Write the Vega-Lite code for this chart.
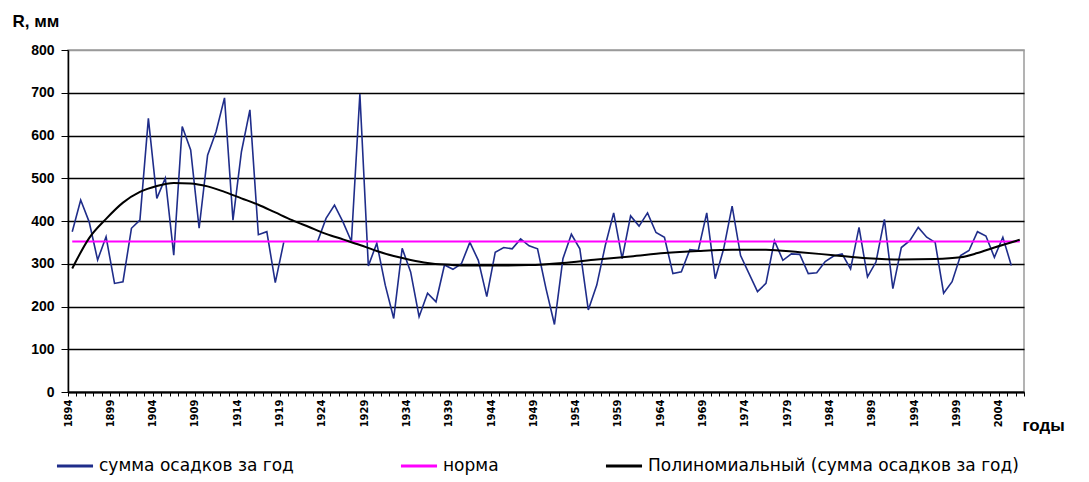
{
  "$schema": "https://vega.github.io/schema/vega-lite/v6.json",
  "width": 956,
  "height": 342,
  "autosize": {"type": "none"},
  "padding": {"left": 68, "top": 50, "right": 65, "bottom": 90},
  "background": "white",
  "config": {"view": {"stroke": "#9a9a9a", "strokeWidth": 1.5}, "font": "Liberation Sans"},
  "datasets": {
    "rain": [
      {"year":1894,"value":375},{"year":1895,"value":449},{"year":1896,"value":398},{"year":1897,"value":309},{"year":1898,"value":363},
      {"year":1899,"value":254},{"year":1900,"value":258},{"year":1901,"value":383},{"year":1902,"value":402},{"year":1903,"value":640},
      {"year":1904,"value":453},{"year":1905,"value":500},{"year":1906,"value":320},{"year":1907,"value":621},{"year":1908,"value":566},
      {"year":1909,"value":383},{"year":1910,"value":554},{"year":1911,"value":609},{"year":1912,"value":688},{"year":1913,"value":402},
      {"year":1914,"value":562},{"year":1915,"value":660},{"year":1916,"value":368},{"year":1917,"value":375},{"year":1918,"value":256},
      {"year":1919,"value":350},{"year":1920,"value":null},{"year":1921,"value":null},{"year":1922,"value":null},{"year":1923,"value":352},
      {"year":1924,"value":406},{"year":1925,"value":437},{"year":1926,"value":398},{"year":1927,"value":352},{"year":1928,"value":697},
      {"year":1929,"value":295},{"year":1930,"value":348},{"year":1931,"value":250},{"year":1932,"value":172},{"year":1933,"value":336},
      {"year":1934,"value":281},{"year":1935,"value":176},{"year":1936,"value":231},{"year":1937,"value":211},{"year":1938,"value":297},
      {"year":1939,"value":287},{"year":1940,"value":300},{"year":1941,"value":350},{"year":1942,"value":308},{"year":1943,"value":223},
      {"year":1944,"value":327},{"year":1945,"value":338},{"year":1946,"value":335},{"year":1947,"value":358},{"year":1948,"value":342},
      {"year":1949,"value":335},{"year":1950,"value":242},{"year":1951,"value":158},{"year":1952,"value":312},{"year":1953,"value":369},
      {"year":1954,"value":335},{"year":1955,"value":192},{"year":1956,"value":250},{"year":1957,"value":342},{"year":1958,"value":419},
      {"year":1959,"value":312},{"year":1960,"value":412},{"year":1961,"value":388},{"year":1962,"value":419},{"year":1963,"value":373},
      {"year":1964,"value":362},{"year":1965,"value":277},{"year":1966,"value":281},{"year":1967,"value":333},{"year":1968,"value":331},
      {"year":1969,"value":419},{"year":1970,"value":265},{"year":1971,"value":335},{"year":1972,"value":435},{"year":1973,"value":319},
      {"year":1974,"value":277},{"year":1975,"value":235},{"year":1976,"value":254},{"year":1977,"value":354},{"year":1978,"value":308},
      {"year":1979,"value":323},{"year":1980,"value":322},{"year":1981,"value":277},{"year":1982,"value":279},{"year":1983,"value":305},
      {"year":1984,"value":318},{"year":1985,"value":323},{"year":1986,"value":288},{"year":1987,"value":385},{"year":1988,"value":269},
      {"year":1989,"value":304},{"year":1990,"value":404},{"year":1991,"value":242},{"year":1992,"value":338},{"year":1993,"value":354},
      {"year":1994,"value":385},{"year":1995,"value":362},{"year":1996,"value":350},{"year":1997,"value":231},{"year":1998,"value":258},
      {"year":1999,"value":319},{"year":2000,"value":331},{"year":2001,"value":375},{"year":2002,"value":365},{"year":2003,"value":315},
      {"year":2004,"value":362},{"year":2005,"value":296}
    ],
    "norm": [{"year":1894,"value":352},{"year":2006,"value":352}],
    "trend": [
      {"year":1894,"value":289},{"year":1896,"value":360},{"year":1898,"value":405},{"year":1900,"value":443},{"year":1902,"value":468},
      {"year":1904,"value":482},{"year":1906,"value":489},{"year":1908,"value":488},{"year":1910,"value":481},{"year":1912,"value":468},
      {"year":1914,"value":453},{"year":1916,"value":438},{"year":1918,"value":420},{"year":1920,"value":402},{"year":1922,"value":386},
      {"year":1924,"value":370},{"year":1926,"value":357},{"year":1928,"value":344},{"year":1930,"value":330},{"year":1932,"value":318},
      {"year":1934,"value":309},{"year":1936,"value":302},{"year":1938,"value":298},{"year":1940,"value":296},{"year":1944,"value":296},
      {"year":1948,"value":297},{"year":1952,"value":302},{"year":1956,"value":310},{"year":1960,"value":317},{"year":1964,"value":325},
      {"year":1968,"value":330},{"year":1972,"value":333},{"year":1976,"value":333},{"year":1980,"value":327},{"year":1984,"value":320},
      {"year":1988,"value":313},{"year":1992,"value":310},{"year":1996,"value":311},{"year":1999,"value":315},{"year":2001,"value":325},
      {"year":2003,"value":338},{"year":2006,"value":356}
    ]
  },
  "encoding": {
    "x": {
      "field": "year",
      "type": "quantitative",
      "scale": {"domain": [1893.5, 2006.5], "nice": false, "zero": false},
      "axis": {
        "values": [1893.5,1894.5,1895.5,1896.5,1897.5,1898.5,1899.5,1900.5,1901.5,1902.5,1903.5,1904.5,1905.5,1906.5,1907.5,1908.5,1909.5,1910.5,1911.5,1912.5,1913.5,1914.5,1915.5,1916.5,1917.5,1918.5,1919.5,1920.5,1921.5,1922.5,1923.5,1924.5,1925.5,1926.5,1927.5,1928.5,1929.5,1930.5,1931.5,1932.5,1933.5,1934.5,1935.5,1936.5,1937.5,1938.5,1939.5,1940.5,1941.5,1942.5,1943.5,1944.5,1945.5,1946.5,1947.5,1948.5,1949.5,1950.5,1951.5,1952.5,1953.5,1954.5,1955.5,1956.5,1957.5,1958.5,1959.5,1960.5,1961.5,1962.5,1963.5,1964.5,1965.5,1966.5,1967.5,1968.5,1969.5,1970.5,1971.5,1972.5,1973.5,1974.5,1975.5,1976.5,1977.5,1978.5,1979.5,1980.5,1981.5,1982.5,1983.5,1984.5,1985.5,1986.5,1987.5,1988.5,1989.5,1990.5,1991.5,1992.5,1993.5,1994.5,1995.5,1996.5,1997.5,1998.5,1999.5,2000.5,2001.5,2002.5,2003.5,2004.5,2005.5,2006.5],
        "labelExpr": "(datum.value - 1893.5) % 5 == 0 ? format(datum.value + 0.5, 'd') : ''",
        "labelAngle": -90,
        "labelAlign": "right",
        "labelBaseline": "middle",
        "labelFont": "DejaVu Sans",
        "labelFontSize": 10,
        "labelFontWeight": "bold",
        "labelColor": "black",
        "labelPadding": 3,
        "labelOverlap": false,
        "labelFlush": false,
        "labelBound": false,
        "tickSize": 4,
        "tickColor": "black",
        "tickWidth": 1,
        "domainColor": "black",
        "domainWidth": 2,
        "grid": false,
        "title": "годы",
        "titleX": 954,
        "titleY": 33,
        "titleAlign": "left",
        "titleBaseline": "middle",
        "titleAngle": 0,
        "titleFontSize": 17,
        "titleFontWeight": "bold",
        "titleColor": "black"
      }
    },
    "y": {
      "field": "value",
      "type": "quantitative",
      "scale": {"domain": [0, 800], "nice": false},
      "axis": {
        "values": [0,100,200,300,400,500,600,700,800],
        "grid": true,
        "gridColor": {"condition": {"test": "datum.value == 800", "value": "#9a9a9a"}, "value": "black"},
        "gridWidth": 1.6,
        "tickSize": 7,
        "tickColor": "black",
        "domainColor": "black",
        "domainWidth": 1.5,
        "labelFontSize": 14,
        "labelFontWeight": "bold",
        "labelColor": "black",
        "labelPadding": 7,
        "title": "R, мм",
        "titleAngle": 0,
        "titleX": -56,
        "titleY": -24,
        "titleAlign": "left",
        "titleBaseline": "alphabetic",
        "titleFontSize": 17,
        "titleFontWeight": "bold",
        "titleColor": "black"
      }
    }
  },
  "layer": [
    {
      "data": {"name": "rain"},
      "mark": {"type": "line", "strokeWidth": 1.6, "invalid": "break-paths-show-domains"},
      "encoding": {
        "color": {
          "datum": "сумма осадков за год",
          "type": "nominal",
          "scale": {
            "domain": ["сумма осадков за год", "норма", "Полиномиальный (сумма осадков за год)"],
            "range": ["#1f2d8a", "#ff00ff", "#000000"]
          },
          "legend": {
            "orient": "none",
            "legendX": -13,
            "legendY": 396,
            "direction": "horizontal",
            "title": null,
            "symbolType": "stroke",
            "symbolSize": 1300,
            "symbolStrokeWidth": 3,
            "labelFont": "DejaVu Sans",
            "labelFontSize": 17,
            "labelColor": "black",
            "labelLimit": 600,
            "labelOffset": 4,
            "columnPadding": 100,
            "padding": 0
          }
        }
      }
    },
    {
      "data": {"name": "norm"},
      "mark": {"type": "line", "strokeWidth": 2},
      "encoding": {"color": {"datum": "норма", "type": "nominal"}}
    },
    {
      "data": {"name": "trend"},
      "mark": {"type": "line", "strokeWidth": 2, "interpolate": "monotone"},
      "encoding": {"color": {"datum": "Полиномиальный (сумма осадков за год)", "type": "nominal"}}
    }
  ]
}
